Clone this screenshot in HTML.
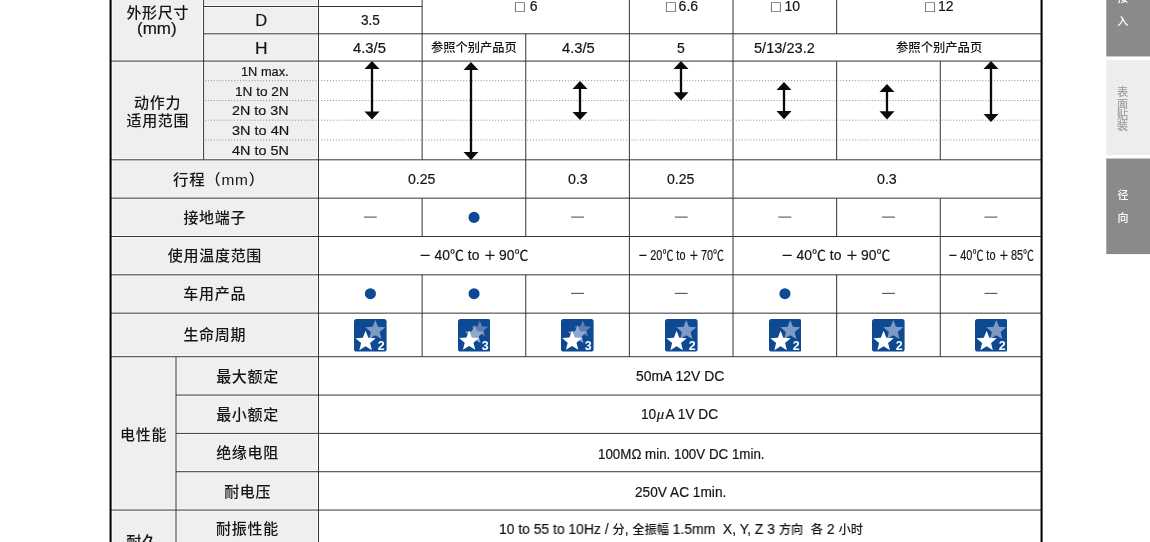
<!DOCTYPE html>
  <html lang="zh-CN"><head><meta charset="utf-8"><title>规格表</title>
  <style>
  html,body{margin:0;padding:0;background:#fff;}
#p{position:relative;width:1150px;height:542px;overflow:hidden;font-family:"Liberation Sans","Noto Sans CJK SC",sans-serif;will-change:transform;}
.t{position:absolute;white-space:nowrap;line-height:1;color:#151515;transform-origin:0 0;-webkit-text-stroke:.2px;}
.c,.m,.k,.n{-webkit-text-stroke:0;}
.c{font-weight:500;letter-spacing:.7px;}
.k{font-size:12.3px;font-weight:500;}
.m{font-weight:500;}
.s{font-size:12.5px;position:relative;top:-.4px;font-weight:500;}
.v{line-height:11.25px;}
svg{position:absolute;}
</style></head><body><div id="p">
  <svg style="left:0;top:0" width="320" height="542" viewBox="0 0 320 542"><rect x="112.6" y="0" width="205.9" height="542" fill="#efefef"/></svg>
<svg style="left:1100px;top:0" width="50" height="260" viewBox="1100 0 50 260"><rect x="1106.3" y="-2" width="44" height="58.45" fill="#8a8a8a"/><rect x="1106.3" y="59.8" width="44" height="95.4" fill="#ededed"/><rect x="1106.3" y="158.5" width="44" height="95.6" fill="#8a8a8a"/></svg>
<svg style="left:0;top:0" width="1150" height="542" viewBox="0 0 1150 542"><path d="M205.2 80.70H1040.5M205.2 100.60H1040.5M205.2 120.20H1040.5M205.2 139.90H1040.5" stroke="#8c8c8c" stroke-width="1" stroke-dasharray="1 1.9" fill="none"/><path d="M203.60 6.50H422.13M203.60 33.80H1041.58M110.58 61.09H1041.58M110.58 159.82H1041.58M110.58 198.15H1041.58M110.58 236.50H1041.58M110.58 274.82H1041.58M110.58 313.15H1041.58M110.58 356.72H1041.58M176.00 395.05H1041.58M176.00 433.40H1041.58M176.00 471.72H1041.58M110.58 510.06H1041.58M203.60 0.00V159.82M176.00 356.72V542.00M318.50 0.00V542.00M422.13 0.00V159.82M422.13 198.15V236.50M422.13 274.82V356.72M525.76 33.80V236.50M525.76 274.82V356.72M629.39 0.00V356.72M733.02 0.00V356.72M836.65 0.00V33.80M836.65 61.09V159.82M836.65 198.15V236.50M836.65 274.82V356.72M940.28 61.09V159.82M940.28 198.15V356.72" stroke="#fff" stroke-opacity=".7" stroke-width="2.9" fill="none"/><path d="M203.60 6.50H422.13M203.60 33.80H1041.58M110.58 61.09H1041.58M110.58 159.82H1041.58M110.58 198.15H1041.58M110.58 236.50H1041.58M110.58 274.82H1041.58M110.58 313.15H1041.58M110.58 356.72H1041.58M176.00 395.05H1041.58M176.00 433.40H1041.58M176.00 471.72H1041.58M110.58 510.06H1041.58M203.60 0.00V159.82M176.00 356.72V542.00M318.50 0.00V542.00M422.13 0.00V159.82M422.13 198.15V236.50M422.13 274.82V356.72M525.76 33.80V236.50M525.76 274.82V356.72M629.39 0.00V356.72M733.02 0.00V356.72M836.65 0.00V33.80M836.65 61.09V159.82M836.65 198.15V236.50M836.65 274.82V356.72M940.28 61.09V159.82M940.28 198.15V356.72" stroke="#333" stroke-width="1" fill="none"/><path d="M110.58 0V542M1041.58 0V542" stroke="#000" stroke-width="2.06" fill="none"/></svg>
<div class="t c" style="font-size:15px;left:126.40px;top:4.75px;">外形尺寸</div>
<div class="t " style="font-size:16.5px;left:137.37px;top:19.95px;transform:scaleX(1.0301);">(mm)</div>
<div class="t " style="font-size:16.5px;left:255.35px;top:11.83px;">D</div>
<div class="t " style="font-size:16.5px;left:254.98px;top:40.33px;transform:scaleX(1.0526);">H</div>
<div class="t c" style="font-size:15px;left:134.12px;top:94.75px;">动作力</div>
<div class="t c" style="font-size:15px;left:126.45px;top:112.75px;">适用范围</div>
<div class="t " style="font-size:13.5px;left:241.45px;top:64.92px;transform:scaleX(0.9472);">1N max.</div>
<div class="t " style="font-size:13.5px;left:235.39px;top:84.62px;transform:scaleX(1.0088);">1N to 2N</div>
<div class="t " style="font-size:13.5px;left:231.82px;top:104.42px;transform:scaleX(1.0609);">2N to 3N</div>
<div class="t " style="font-size:13.5px;left:232.06px;top:124.22px;transform:scaleX(1.0725);">3N to 4N</div>
<div class="t " style="font-size:13.5px;left:232.33px;top:143.93px;transform:scaleX(1.0673);">4N to 5N</div>
<div class="t c" style="font-size:15px;left:172.59px;top:171.52px;transform:scaleX(1.0295);">行程（mm）</div>
<div class="t c" style="font-size:15px;left:183.40px;top:210.45px;">接地端子</div>
<div class="t c" style="font-size:15px;left:167.83px;top:247.85px;">使用温度范围</div>
<div class="t c" style="font-size:15px;left:183.33px;top:286.45px;">车用产品</div>
<div class="t c" style="font-size:15px;left:183.40px;top:326.85px;">生命周期</div>
<div class="t c" style="font-size:15px;left:120.12px;top:426.85px;">电性能</div>
<div class="t c" style="font-size:15px;left:216.18px;top:369.05px;">最大额定</div>
<div class="t c" style="font-size:15px;left:216.18px;top:406.85px;">最小额定</div>
<div class="t c" style="font-size:15px;left:216.18px;top:445.25px;">绝缘电阻</div>
<div class="t c" style="font-size:15px;left:224.15px;top:484.45px;">耐电压</div>
<div class="t c" style="font-size:15px;left:216.05px;top:521.45px;">耐振性能</div>
<div class="t c" style="font-size:15px;left:126.20px;top:533.55px;">耐久</div>
<div class="t " style="font-size:14px;left:360.96px;top:13.27px;transform:scaleX(0.9730);">3.5</div>
<div class="t " style="font-size:16px;color:#555;left:515.08px;top:-1.10px;">□</div>
<div class="t " style="font-size:16px;color:#555;left:665.92px;top:-1.10px;">□</div>
<div class="t " style="font-size:16px;color:#555;left:771.12px;top:-1.10px;">□</div>
<div class="t " style="font-size:16px;color:#555;left:925.23px;top:-1.10px;">□</div>
<div class="t " style="font-size:14px;left:529.77px;top:-1.03px;">6</div>
<div class="t " style="font-size:14px;left:678.60px;top:-1.03px;">6.6</div>
<div class="t " style="font-size:14px;left:784.58px;top:-1.03px;">10</div>
<div class="t " style="font-size:14px;left:938.05px;top:-1.03px;">12</div>
<div class="t " style="font-size:14px;left:353.44px;top:40.60px;transform:scaleX(1.0557);">4.3/5</div>
<div class="t m" style="font-size:12.4px;left:431.31px;top:42.05px;transform:scaleX(0.9895);">参照个别产品页</div>
<div class="t " style="font-size:14px;left:561.94px;top:40.60px;transform:scaleX(1.0492);">4.3/5</div>
<div class="t " style="font-size:14px;left:677.12px;top:40.95px;">5</div>
<div class="t " style="font-size:14px;left:754.38px;top:40.60px;transform:scaleX(1.0410);">5/13/23.2</div>
<div class="t m" style="font-size:12.4px;left:896.10px;top:42.05px;transform:scaleX(0.9942);">参照个别产品页</div>
<div class="t " style="font-size:14px;left:408.30px;top:171.62px;transform:scaleX(1.0057);">0.25</div>
<div class="t " style="font-size:14px;left:568.39px;top:171.62px;transform:scaleX(1.0162);">0.3</div>
<div class="t " style="font-size:14px;left:667.00px;top:171.62px;transform:scaleX(1.0057);">0.25</div>
<div class="t " style="font-size:14px;left:877.09px;top:171.62px;transform:scaleX(1.0162);">0.3</div>
<div class="t " style="font-size:14px;left:418.91px;top:247.95px;transform:scaleX(0.9921);"><span class="s" style="margin-right:3.2px">－</span>40℃ to <span class="s" style="margin:0 2.8px 0 .6px">＋</span>90℃</div>
<div class="t " style="font-size:14px;left:637.61px;top:248.05px;transform:scaleX(0.7800);"><span class="s" style="margin-right:3.2px">－</span>20℃ to <span class="s" style="margin:0 2.8px 0 .6px">＋</span>70℃</div>
<div class="t " style="font-size:14px;left:781.41px;top:247.95px;transform:scaleX(0.9921);"><span class="s" style="margin-right:3.2px">－</span>40℃ to <span class="s" style="margin:0 2.8px 0 .6px">＋</span>90℃</div>
<div class="t " style="font-size:14px;left:947.71px;top:248.05px;transform:scaleX(0.7800);"><span class="s" style="margin-right:3.2px">－</span>40℃ to <span class="s" style="margin:0 2.8px 0 .6px">＋</span>85℃</div>
<div class="t " style="font-size:14px;left:635.85px;top:368.88px;transform:scaleX(0.9949);">50mA 12V DC</div>
<div class="t " style="font-size:14px;left:640.92px;top:407.27px;transform:scaleX(0.9786);">10<i style="font-family:'Liberation Serif',serif;font-size:15px;margin:0 1.5px 0 .5px">μ</i>A 1V DC</div>
<div class="t " style="font-size:14px;left:597.80px;top:446.70px;transform:scaleX(0.9536);">100MΩ min. 100V DC 1min.</div>
<div class="t " style="font-size:14px;left:634.56px;top:484.60px;transform:scaleX(0.9777);">250V AC 1min.</div>
<div class="t " style="font-size:14px;left:499.01px;top:521.95px;transform:scaleX(0.9914);">10 to 55 to 10Hz / <span class="k">分</span>, <span class="k">全振幅</span> 1.5mm&nbsp; X, Y, Z 3 <span class="k">方向</span>&nbsp; <span class="k">各</span> 2 <span class="k">小时</span></div>
<div class="t m" style="font-size:11px;color:#fff;left:1117.30px;top:-6.67px;">接</div>
<div class="t m" style="font-size:11px;color:#fff;left:1117.17px;top:15.52px;">入</div>
<div class="t v" style="font-size:11px;color:#9b9b9b;left:1117.10px;top:87.33px;">表<br>面<br>贴<br>装</div>
<div class="t m" style="font-size:11px;color:#fff;left:1117.62px;top:189.82px;">径</div>
<div class="t m" style="font-size:11px;color:#fff;left:1117.50px;top:213.12px;">向</div>
<svg style="left:364.20px;top:61.4px;overflow:visible" width="16" height="58.5" viewBox="0 0 16 58.5"><path d="M8 0 L15.5 8.1 H9.15 V50.40 H15.5 L8 58.5 L0.5 50.40 H6.85 V8.1 H0.5 Z" fill="#0a0a0a"/></svg>
<svg style="left:462.80px;top:61.6px;overflow:visible" width="16" height="98.1" viewBox="0 0 16 98.1"><path d="M8 0 L15.5 8.1 H9.15 V90.00 H15.5 L8 98.1 L0.5 90.00 H6.85 V8.1 H0.5 Z" fill="#0a0a0a"/></svg>
<svg style="left:571.60px;top:80.8px;overflow:visible" width="16" height="39.1" viewBox="0 0 16 39.1"><path d="M8 0 L15.5 8.1 H9.15 V31.00 H15.5 L8 39.1 L0.5 31.00 H6.85 V8.1 H0.5 Z" fill="#0a0a0a"/></svg>
<svg style="left:672.80px;top:61.4px;overflow:visible" width="16" height="39.4" viewBox="0 0 16 39.4"><path d="M8 0 L15.5 8.1 H9.15 V31.30 H15.5 L8 39.4 L0.5 31.30 H6.85 V8.1 H0.5 Z" fill="#0a0a0a"/></svg>
<svg style="left:776.30px;top:82.2px;overflow:visible" width="16" height="37.2" viewBox="0 0 16 37.2"><path d="M8 0 L15.5 8.1 H9.15 V29.10 H15.5 L8 37.2 L0.5 29.10 H6.85 V8.1 H0.5 Z" fill="#0a0a0a"/></svg>
<svg style="left:879.30px;top:84.0px;overflow:visible" width="16" height="35.4" viewBox="0 0 16 35.4"><path d="M8 0 L15.5 8.1 H9.15 V27.30 H15.5 L8 35.4 L0.5 27.30 H6.85 V8.1 H0.5 Z" fill="#0a0a0a"/></svg>
<svg style="left:982.90px;top:61.4px;overflow:visible" width="16" height="61.0" viewBox="0 0 16 61.0"><path d="M8 0 L15.5 8.1 H9.15 V52.90 H15.5 L8 61.0 L0.5 52.90 H6.85 V8.1 H0.5 Z" fill="#0a0a0a"/></svg>
<svg style="left:0;top:200px" width="1150" height="110" viewBox="0 200 1150 110"><path d="M363.87 217.1h12.9" stroke="#5e5e5e" stroke-width="1.15"/><circle cx="474.05" cy="217.4" r="5.55" fill="#0d4a92"/><path d="M571.12 217.1h12.9" stroke="#5e5e5e" stroke-width="1.15"/><path d="M674.75 217.1h12.9" stroke="#5e5e5e" stroke-width="1.15"/><path d="M778.38 217.1h12.9" stroke="#5e5e5e" stroke-width="1.15"/><path d="M882.01 217.1h12.9" stroke="#5e5e5e" stroke-width="1.15"/><path d="M984.48 217.1h12.9" stroke="#5e5e5e" stroke-width="1.15"/><circle cx="370.42" cy="293.7" r="5.55" fill="#0d4a92"/><circle cx="474.05" cy="293.7" r="5.55" fill="#0d4a92"/><path d="M571.12 293.4h12.9" stroke="#5e5e5e" stroke-width="1.15"/><path d="M674.75 293.4h12.9" stroke="#5e5e5e" stroke-width="1.15"/><circle cx="784.94" cy="293.7" r="5.55" fill="#0d4a92"/><path d="M882.01 293.4h12.9" stroke="#5e5e5e" stroke-width="1.15"/><path d="M984.48 293.4h12.9" stroke="#5e5e5e" stroke-width="1.15"/></svg>
<svg style="left:354.21px;top:319.10px" width="32.6" height="32.6" viewBox="0 0 32.6 32.6"><rect x="0" y="0" width="32.6" height="32.6" rx="2.6" fill="#0d4a92"/><polygon points="21.30,1.10 24.02,7.86 31.29,8.36 25.69,13.03 27.47,20.09 21.30,16.22 15.13,20.09 16.91,13.03 11.31,8.36 18.58,7.86" fill="#7d9ac6"/><polygon points="11.60,11.80 14.37,18.69 21.78,19.19 16.08,23.95 17.89,31.16 11.60,27.21 5.31,31.16 7.12,23.95 1.42,19.19 8.83,18.69" fill="#fff"/><text x="27.2" y="30.7" font-family='"Liberation Sans",sans-serif' font-weight="bold" font-size="12.4" fill="#fff" text-anchor="middle">2</text></svg>
<svg style="left:457.84px;top:319.10px" width="32.6" height="32.6" viewBox="0 0 32.6 32.6"><rect x="0" y="0" width="32.6" height="32.6" rx="2.6" fill="#0d4a92"/><polygon points="21.80,1.50 24.10,7.23 30.26,7.65 25.52,11.61 27.03,17.60 21.80,14.32 16.57,17.60 18.08,11.61 13.34,7.65 19.50,7.23" fill="#5c7fb4"/><polygon points="16.60,5.90 19.19,12.34 26.11,12.81 20.78,17.26 22.48,23.99 16.60,20.30 10.72,23.99 12.42,17.26 7.09,12.81 14.01,12.34" fill="#8ea8ce"/><polygon points="11.10,11.80 13.82,18.56 21.09,19.06 15.49,23.73 17.27,30.79 11.10,26.92 4.93,30.79 6.71,23.73 1.11,19.06 8.38,18.56" fill="#fff"/><text x="27.2" y="30.7" font-family='"Liberation Sans",sans-serif' font-weight="bold" font-size="12.4" fill="#fff" text-anchor="middle">3</text></svg>
<svg style="left:561.48px;top:319.10px" width="32.6" height="32.6" viewBox="0 0 32.6 32.6"><rect x="0" y="0" width="32.6" height="32.6" rx="2.6" fill="#0d4a92"/><polygon points="21.80,1.50 24.10,7.23 30.26,7.65 25.52,11.61 27.03,17.60 21.80,14.32 16.57,17.60 18.08,11.61 13.34,7.65 19.50,7.23" fill="#5c7fb4"/><polygon points="16.60,5.90 19.19,12.34 26.11,12.81 20.78,17.26 22.48,23.99 16.60,20.30 10.72,23.99 12.42,17.26 7.09,12.81 14.01,12.34" fill="#8ea8ce"/><polygon points="11.10,11.80 13.82,18.56 21.09,19.06 15.49,23.73 17.27,30.79 11.10,26.92 4.93,30.79 6.71,23.73 1.11,19.06 8.38,18.56" fill="#fff"/><text x="27.2" y="30.7" font-family='"Liberation Sans",sans-serif' font-weight="bold" font-size="12.4" fill="#fff" text-anchor="middle">3</text></svg>
<svg style="left:665.11px;top:319.10px" width="32.6" height="32.6" viewBox="0 0 32.6 32.6"><rect x="0" y="0" width="32.6" height="32.6" rx="2.6" fill="#0d4a92"/><polygon points="21.30,1.10 24.02,7.86 31.29,8.36 25.69,13.03 27.47,20.09 21.30,16.22 15.13,20.09 16.91,13.03 11.31,8.36 18.58,7.86" fill="#7d9ac6"/><polygon points="11.60,11.80 14.37,18.69 21.78,19.19 16.08,23.95 17.89,31.16 11.60,27.21 5.31,31.16 7.12,23.95 1.42,19.19 8.83,18.69" fill="#fff"/><text x="27.2" y="30.7" font-family='"Liberation Sans",sans-serif' font-weight="bold" font-size="12.4" fill="#fff" text-anchor="middle">2</text></svg>
<svg style="left:768.74px;top:319.10px" width="32.6" height="32.6" viewBox="0 0 32.6 32.6"><rect x="0" y="0" width="32.6" height="32.6" rx="2.6" fill="#0d4a92"/><polygon points="21.30,1.10 24.02,7.86 31.29,8.36 25.69,13.03 27.47,20.09 21.30,16.22 15.13,20.09 16.91,13.03 11.31,8.36 18.58,7.86" fill="#7d9ac6"/><polygon points="11.60,11.80 14.37,18.69 21.78,19.19 16.08,23.95 17.89,31.16 11.60,27.21 5.31,31.16 7.12,23.95 1.42,19.19 8.83,18.69" fill="#fff"/><text x="27.2" y="30.7" font-family='"Liberation Sans",sans-serif' font-weight="bold" font-size="12.4" fill="#fff" text-anchor="middle">2</text></svg>
<svg style="left:872.37px;top:319.10px" width="32.6" height="32.6" viewBox="0 0 32.6 32.6"><rect x="0" y="0" width="32.6" height="32.6" rx="2.6" fill="#0d4a92"/><polygon points="21.30,1.10 24.02,7.86 31.29,8.36 25.69,13.03 27.47,20.09 21.30,16.22 15.13,20.09 16.91,13.03 11.31,8.36 18.58,7.86" fill="#7d9ac6"/><polygon points="11.60,11.80 14.37,18.69 21.78,19.19 16.08,23.95 17.89,31.16 11.60,27.21 5.31,31.16 7.12,23.95 1.42,19.19 8.83,18.69" fill="#fff"/><text x="27.2" y="30.7" font-family='"Liberation Sans",sans-serif' font-weight="bold" font-size="12.4" fill="#fff" text-anchor="middle">2</text></svg>
<svg style="left:974.83px;top:319.10px" width="32.6" height="32.6" viewBox="0 0 32.6 32.6"><rect x="0" y="0" width="32.6" height="32.6" rx="2.6" fill="#0d4a92"/><polygon points="21.30,1.10 24.02,7.86 31.29,8.36 25.69,13.03 27.47,20.09 21.30,16.22 15.13,20.09 16.91,13.03 11.31,8.36 18.58,7.86" fill="#7d9ac6"/><polygon points="11.60,11.80 14.37,18.69 21.78,19.19 16.08,23.95 17.89,31.16 11.60,27.21 5.31,31.16 7.12,23.95 1.42,19.19 8.83,18.69" fill="#fff"/><text x="27.2" y="30.7" font-family='"Liberation Sans",sans-serif' font-weight="bold" font-size="12.4" fill="#fff" text-anchor="middle">2</text></svg>
  </div></body></html>
